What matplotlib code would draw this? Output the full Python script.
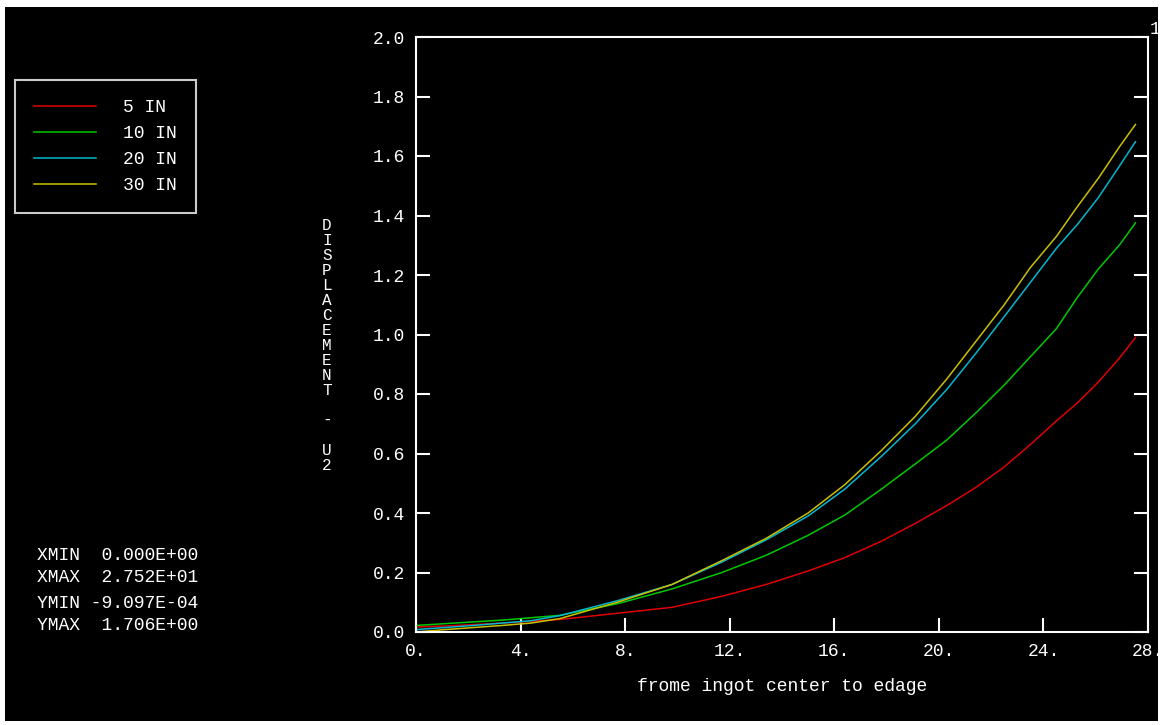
import matplotlib
matplotlib.use('Agg')

import matplotlib.pyplot as plt
from matplotlib.patches import Rectangle

# node positions along the radius (in)
x_nodes = [0.0, 1.1, 2.2, 3.3, 4.4, 5.5, 7.7, 9.8, 11.7, 13.4, 15.0, 16.4,
           17.8, 19.1, 20.3, 21.4, 22.5, 23.5, 24.5, 25.3, 26.1, 26.9, 27.52]

# displacement U2 for each ingot length
u2_5in = [0.017, 0.020, 0.025, 0.030, 0.036, 0.042, 0.063, 0.083, 0.120, 0.160, 0.205, 0.250,
          0.305, 0.365, 0.425, 0.485, 0.555, 0.630, 0.710, 0.770, 0.840, 0.920, 0.990]
u2_10in = [0.022, 0.028, 0.034, 0.040, 0.048, 0.056, 0.095, 0.145, 0.200, 0.258, 0.325, 0.393,
           0.480, 0.565, 0.645, 0.735, 0.830, 0.925, 1.020, 1.125, 1.220, 1.300, 1.375]
u2_20in = [0.008, 0.015, 0.022, 0.030, 0.038, 0.055, 0.105, 0.160, 0.235, 0.310, 0.390, 0.480,
           0.590, 0.700, 0.815, 0.935, 1.060, 1.175, 1.290, 1.370, 1.460, 1.565, 1.648]
u2_30in = [0.000, 0.008, 0.015, 0.022, 0.030, 0.045, 0.100, 0.160, 0.240, 0.315, 0.400, 0.495,
           0.610, 0.725, 0.850, 0.975, 1.100, 1.225, 1.330, 1.430, 1.525, 1.630, 1.706]

series_labels = ['5 IN', '10 IN', '20 IN', '30 IN']
series_colors = ['#e00000', '#00c800', '#00b8d0', '#c8c000']

x_ticks = [0, 4, 8, 12, 16, 20, 24, 28]
x_ticklabels = ['0.', '4.', '8.', '12.', '16.', '20.', '24.', '28.']
y_ticks = [0.0, 0.2, 0.4, 0.6, 0.8, 1.0, 1.2, 1.4, 1.6, 1.8, 2.0]
y_ticklabels = ['%.1f' % v for v in y_ticks]

stats_lines = ['XMIN  0.000E+00', 'XMAX  2.752E+01', 'YMIN -9.097E-04', 'YMAX  1.706E+00']

FONT = 'Liberation Mono'
FS = 13
W, H = 1165, 725

fig = plt.figure(figsize=(W / 100, H / 100), dpi=100, facecolor='white')
# black plotting screen with thin white margin
fig.patches.append(Rectangle((5 / W, 4 / H), 1153 / W, 714 / H, transform=fig.transFigure,
                             facecolor='black', edgecolor='none', zorder=-10))

ax = fig.add_axes([416 / W, 93 / H, 732 / W, 595 / H])
ax.set_facecolor('black')

for ys, lab, col in zip([u2_5in, u2_10in, u2_20in, u2_30in], series_labels, series_colors):
    ax.plot(x_nodes, ys, color=col, lw=1.1, label=lab)

ax.set_xlim(0, 28)
ax.set_ylim(0, 2.0)
ax.set_xticks(x_ticks)
ax.set_xticklabels(x_ticklabels, fontfamily=FONT, fontsize=FS, color='white')
ax.set_yticks(y_ticks)
ax.set_yticklabels(y_ticklabels, fontfamily=FONT, fontsize=FS, color='white')
ax.tick_params(axis='x', direction='in', length=10, width=1.5, color='white', pad=8)
ax.tick_params(axis='y', direction='in', length=10, width=1.5, color='white', pad=8,
               right=True)
for sp in ax.spines.values():
    sp.set_color('white')
    sp.set_linewidth(1.5)

ax.set_xlabel('frome ingot center to edage', fontfamily=FONT, fontsize=FS, color='white',
              labelpad=13)

# stacked vertical axis title
fig.text(327 / W, 1 - 345 / H, '\n'.join('DISPLACEMENT - U2'), fontfamily=FONT, fontsize=11.5,
         color='white', ha='center', va='center', linespacing=1.0)

leg = ax.legend(loc='upper left', bbox_to_anchor=(15 / W, 1 - 80 / H),
                bbox_transform=fig.transFigure, prop={'family': FONT, 'size': FS},
                frameon=True, fancybox=False, handlelength=3.45, handletextpad=1.5,
                borderpad=1.05, labelspacing=0.5, borderaxespad=0)
frame = leg.get_frame()
frame.set_facecolor('black')
frame.set_edgecolor('white')
frame.set_linewidth(1.5)
for t in leg.get_texts():
    t.set_color('white')

for line, ypx in zip(stats_lines, [556, 578, 604, 626]):
    fig.text(37 / W, 1 - ypx / H, line, fontfamily=FONT, fontsize=FS, color='white',
             ha='left', va='center')

fig.text(1150 / W, 1 - 30 / H, '1', fontfamily=FONT, fontsize=FS, color='white',
         ha='left', va='center')

fig.savefig('out.png', dpi=100, facecolor='white')
